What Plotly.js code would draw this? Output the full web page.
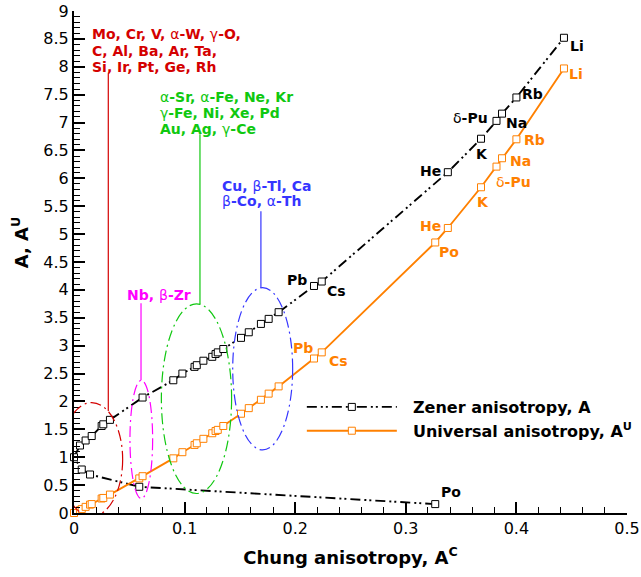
<!DOCTYPE html>
<html>
<head>
<meta charset="utf-8">
<script src="https://cdn.plot.ly/plotly-3.0.1.min.js"></script>
<style>html,body{margin:0;padding:0;background:#fff;}#chart{width:641px;height:577px;}</style>
</head>
<body>
<div id="chart"></div>
<script>
// Zener anisotropy A vs Chung anisotropy A^C (ordered by A)
const zenerX = [0.3266, 0.059, 0.0145, 0.007, 0, 0.0054, 0.0105, 0.016, 0.025, 0.0265, 0.0325, 0.062, 0.0898, 0.098, 0.109, 0.111, 0.117, 0.125, 0.128, 0.130, 0.135, 0.151, 0.158, 0.169, 0.176, 0.185, 0.217, 0.224, 0.338, 0.368, 0.382, 0.387, 0.400, 0.443];
const zenerA = [0.16, 0.47, 0.69, 0.78, 1.0, 1.21, 1.30, 1.38, 1.56, 1.59, 1.67, 2.07, 2.38, 2.50, 2.62, 2.65, 2.73, 2.80, 2.85, 2.88, 2.94, 3.14, 3.24, 3.39, 3.48, 3.60, 4.07, 4.15, 6.11, 6.71, 7.03, 7.16, 7.45, 8.52];

// Universal anisotropy A^U vs Chung anisotropy A^C
const univX = [0, 0.0054, 0.007, 0.0105, 0.0145, 0.016, 0.025, 0.0265, 0.0325, 0.059, 0.062, 0.0898, 0.098, 0.109, 0.111, 0.117, 0.125, 0.128, 0.130, 0.135, 0.151, 0.158, 0.169, 0.176, 0.185, 0.217, 0.224, 0.3266, 0.338, 0.368, 0.382, 0.387, 0.400, 0.443];
const univA = [0, 0.05, 0.07, 0.11, 0.15, 0.16, 0.26, 0.27, 0.33, 0.62, 0.66, 0.98, 1.09, 1.22, 1.25, 1.33, 1.43, 1.47, 1.49, 1.56, 1.78, 1.88, 2.03, 2.14, 2.27, 2.77, 2.88, 4.85, 5.11, 5.84, 6.21, 6.36, 6.70, 7.97];

// point labels (index into arrays)
const zenerLabelNames = ['Po', 'Pb', 'Cs', 'He', 'K', 'δ-Pu', 'Na', 'Rb', 'Li'];
const zenerLabelIdx   = [0, 26, 27, 28, 29, 30, 31, 32, 33];
const univLabelNames  = ['Pb', 'Cs', 'Po', 'He', 'K', 'δ-Pu', 'Na', 'Rb', 'Li'];
const univLabelIdx    = [25, 26, 27, 28, 29, 30, 31, 32, 33];

// group annotation texts
const groupRed = ['Mo, Cr, V, α-W, γ-O,', 'C, Al, Ba, Ar, Ta,', 'Si, Ir, Pt, Ge, Rh'];
const groupGreen = ['α-Sr, α-Fe, Ne, Kr', 'γ-Fe, Ni, Xe, Pd', 'Au, Ag, γ-Ce'];
const groupMagenta = ['Nb, β-Zr'];
const groupBlue = ['Cu, β-Tl, Ca', 'β-Co, α-Th'];

const xTickVals = [0, 0.1, 0.2, 0.3, 0.4, 0.5];
const xTickText = ['0', '0.1', '0.2', '0.3', '0.4', '0.5'];

const FONT = 'DejaVu Sans, Liberation Sans, Arial, sans-serif';
const ORANGE = '#ff8000';
const RED = '#d40000';
const GREEN = '#10c810';
const MAGENTA = '#ff00ff';
const BLUE = '#3535ff';

function greek(s) {
  return s.replace(/([αβγδ])/g, '<span style="font-weight:normal">$1</span>');
}

const traces = [
  {
    x: zenerX, y: zenerA, type: 'scatter', mode: 'lines+markers',
    name: '\u00a0\u00a0Zener anisotropy, A',
    line: {color: 'black', width: 1.9, dash: '10px,4px,2px,3px,2px,4px'},
    marker: {symbol: 'square', size: 7, color: 'white', line: {color: 'black', width: 1}},
    cliponaxis: false
  },
  {
    x: univX, y: univA, type: 'scatter', mode: 'lines+markers',
    name: '\u00a0\u00a0Universal anisotropy, A<sup>U</sup>',
    line: {color: ORANGE, width: 1.9},
    marker: {symbol: 'square', size: 7, color: 'white', line: {color: ORANGE, width: 1}},
    cliponaxis: false
  }
];

const annotations = [];
// label offsets [xanchor, xshift, yshift]
const zOff = {
  'Po': ['left', 4, 12], 'Pb': ['right', -5, 6], 'Cs': ['left', 3, -9], 'He': ['right', -5, 1],
  'K': ['center', 1, -15], 'δ-Pu': ['right', -6, 3], 'Na': ['left', 2, -9], 'Rb': ['left', 4, 3], 'Li': ['left', 4, -8]
};
const uOff = {
  'Pb': ['right', 1, 11], 'Cs': ['left', 5, -9], 'Po': ['left', 2, -10], 'He': ['right', -5, 2],
  'K': ['center', 2, -15], 'δ-Pu': ['left', -2, -15], 'Na': ['left', 6, -3], 'Rb': ['left', 6, -1], 'Li': ['left', 3, -6]
};
zenerLabelNames.forEach((n, i) => {
  const k = zenerLabelIdx[i], o = zOff[n];
  annotations.push({x: zenerX[k], y: zenerA[k], xref: 'x', yref: 'y', text: greek(n), showarrow: false,
    xanchor: o[0], yanchor: 'middle', xshift: o[1], yshift: o[2],
    font: {family: FONT, size: 14, color: 'black', weight: 'bold'}});
});
univLabelNames.forEach((n, i) => {
  const k = univLabelIdx[i], o = uOff[n];
  annotations.push({x: univX[k], y: univA[k], xref: 'x', yref: 'y', text: greek(n), showarrow: false,
    xanchor: o[0], yanchor: 'middle', xshift: o[1], yshift: o[2],
    font: {family: FONT, size: 14, color: ORANGE, weight: 'bold'}});
});

function group(lines, color, x, y, gap) {
  lines.forEach((ln, i) => {
    annotations.push({x: x, y: y, xref: 'x', yref: 'y', text: greek(ln),
      showarrow: false, xanchor: 'left', yanchor: 'middle', align: 'left', yshift: -gap * i,
      font: {family: FONT, size: 14, color: color, weight: 'bold'}});
  });
}
group(groupRed, RED, 0.0145, 8.58, 16.5);
group(groupGreen, GREEN, 0.076, 7.45, 15.7);
group(groupMagenta, MAGENTA, 0.046, 3.91, 0);
group(groupBlue, BLUE, 0.132, 5.86, 15.2);

// y-axis title
annotations.push({x: -0.097, y: 0.54, xref: 'paper', yref: 'paper', text: 'A, A<sup>U</sup>', showarrow: false,
  textangle: -90, xanchor: 'center', yanchor: 'middle',
  font: {family: FONT, size: 18, color: 'black', weight: 'bold'}});

const EDASH = '11px,4px,2px,4px';
const shapes = [
  {type: 'circle', xref: 'x', yref: 'y', x0: -0.012, x1: 0.044, y0: -0.06, y1: 1.98, line: {color: RED, width: 1.2, dash: EDASH}},
  {type: 'line', xref: 'x', yref: 'y', x0: 0.031, x1: 0.031, y0: 1.83, y1: 7.87, line: {color: RED, width: 1.2}},
  {type: 'circle', xref: 'x', yref: 'y', x0: 0.079, x1: 0.1425, y0: 0.35, y1: 3.75, line: {color: GREEN, width: 1.2, dash: EDASH}},
  {type: 'line', xref: 'x', yref: 'y', x0: 0.1139, x1: 0.1139, y0: 3.74, y1: 6.79, line: {color: GREEN, width: 1.2}},
  {type: 'circle', xref: 'x', yref: 'y', x0: 0.0506, x1: 0.0711, y0: 0.26, y1: 2.38, line: {color: MAGENTA, width: 1.2, dash: EDASH}},
  {type: 'line', xref: 'x', yref: 'y', x0: 0.0606, x1: 0.0606, y0: 2.38, y1: 3.76, line: {color: MAGENTA, width: 1.2}},
  {type: 'circle', xref: 'x', yref: 'y', x0: 0.1435, x1: 0.1977, y0: 1.13, y1: 4.04, line: {color: BLUE, width: 1.2, dash: EDASH}},
  {type: 'line', xref: 'x', yref: 'y', x0: 0.169, x1: 0.169, y0: 4.04, y1: 5.41, line: {color: BLUE, width: 1.2}}
];

const layout = {
  width: 641, height: 577,
  margin: {l: 74, r: 14, t: 11, b: 64, autoexpand: false},
  paper_bgcolor: 'white', plot_bgcolor: 'white',
  font: {family: FONT, size: 16, color: 'black'},
  showlegend: true,
  legend: {x: 0.412, y: 0.245, xanchor: 'left', yanchor: 'top', bgcolor: 'rgba(0,0,0,0)',
    itemwidth: 90, font: {family: FONT, size: 16, color: 'black', weight: 'bold'}, tracegroupgap: 0},
  xaxis: {
    range: [0, 0.5], showgrid: false, zeroline: false, showline: true, linecolor: 'black', linewidth: 2,
    ticks: 'inside', ticklen: 11, tickwidth: 2, tickcolor: 'black',
    tickvals: xTickVals, ticktext: xTickText,
    minor: {dtick: 0.02, ticks: 'inside', ticklen: 6, tickwidth: 1, tickcolor: 'black'},
    tickfont: {family: FONT, size: 16, color: 'black'},
    title: {text: 'Chung anisotropy, A<sup>C</sup>', standoff: 14, font: {family: FONT, size: 18, color: 'black', weight: 'bold'}}
  },
  yaxis: {
    range: [0, 9], dtick: 0.5, showgrid: false, zeroline: false, showline: true, linecolor: 'black', linewidth: 2,
    ticks: 'inside', ticklen: 11, tickwidth: 2, tickcolor: 'black',
    minor: {dtick: 0.1, ticks: 'inside', ticklen: 6, tickwidth: 1, tickcolor: 'black'},
    tickfont: {family: FONT, size: 16, color: 'black'}
  },
  annotations: annotations,
  shapes: shapes
};

Plotly.newPlot('chart', traces, layout, {staticPlot: true});
</script>
</body>
</html>
